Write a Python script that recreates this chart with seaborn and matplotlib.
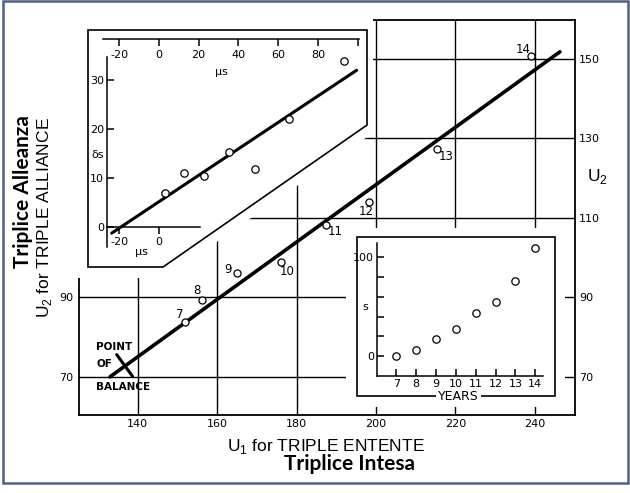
import numpy as np
import pandas as pd
import seaborn as sns
import matplotlib.pyplot as plt
from matplotlib.patches import Polygon, Rectangle

# main chart: U1 (Triple Entente) against U2 (Triple Alliance), years 1907-1914
years = [7, 8, 9, 10, 11, 12, 13, 14]
u1 = [151.8, 156.2, 165.0, 176.1, 187.5, 198.2, 215.3, 239.0]
u2 = [83.9, 89.4, 96.2, 98.8, 108.1, 113.9, 127.3, 150.8]
fit_u1 = [133.0, 246.3]
fit_u2 = [70.0, 151.8]
balance_u1 = [134.7, 138.7]
balance_u2 = [75.6, 70.1]
x_ticks = [140, 160, 180, 200, 220, 240]
y_ticks = [70, 90, 110, 130, 150]

# upper inset: delta s against mu s
mu_s = [3.1, 12.5, 22.7, 35.1, 48.2, 65.6, 92.9]
delta_s = [6.9, 11.1, 10.4, 15.3, 11.9, 22.0, 33.9]
fit_mu = [-23.7, 99.4]
fit_delta = [-1.2, 32.0]
mu_ticks = [-20, 0, 20, 40, 60, 80, 100]
mu_labels = ['-20', '0', '20', '40', '60', '80', '']
delta_ticks = [0, 10, 20, 30]

# lower inset: s against years
s_values = [0.0, 6.4, 17.2, 27.3, 43.4, 54.8, 75.8, 109.7]
s_ticks = [0, 20, 40, 60, 80, 100]
s_labels = ['0', '', '', '', '', '100']

# where each year number sits next to its point (pixels)
label_offsets = {7: (-5, 7), 8: (-5, 9), 9: (-9, 3), 10: (6, -9),
                 11: (9, -6), 12: (-3, -9), 13: (9, -7), 14: (-8, 6)}

sns.set_style("white")
plt.rcParams['font.family'] = ['DejaVu Sans']
plt.rcParams.update({'text.color': 'black', 'xtick.color': 'black', 'ytick.color': 'black',
                     'axes.labelcolor': 'black'})

W, H = 630, 493
fig = plt.figure(figsize=(W / 100, H / 100), dpi=100)


def box(x0, y0, x1, y1):
    return [x0 / W, 1 - y1 / H, (x1 - x0) / W, (y1 - y0) / H]


def fig_pts(pts):
    return [(x / W, 1 - y / H) for x, y in pts]


# ---- main axes
ax = fig.add_axes(box(79, 20, 575, 415))
ax.set_xlim(125.2, 250.1)
ax.set_ylim(60.4, 159.8)
for v in x_ticks:
    ax.axvline(v, color='black', lw=1.0, zorder=1)
for v in y_ticks:
    ax.axhline(v, color='black', lw=1.0, zorder=1)
sns.lineplot(x=fit_u1, y=fit_u2, ax=ax, color='black', lw=2.6, zorder=3)
sns.lineplot(x=balance_u1, y=balance_u2, ax=ax, color='black', lw=2.2, zorder=3)
sns.scatterplot(x=u1, y=u2, ax=ax, marker='o', s=26, facecolor='white',
                edgecolor='black', linewidth=0.9, zorder=4)
for yr, x, y in zip(years, u1, u2):
    ax.annotate(str(yr), (x, y), xytext=label_offsets[yr], textcoords='offset pixels',
                ha='center', va='center', fontsize=8.5)

for sp in ax.spines.values():
    sp.set_linewidth(1.3)
    sp.set_color('black')
ax.spines['left'].set_bounds(60.4, 94.9)
ax.spines['top'].set_bounds(199.1, 250.1)
ax.set_xticks(x_ticks)
ax.set_yticks(y_ticks)
ax.tick_params(length=0, labelsize=8, pad=3, labelleft=False, labelright=True)
ax.set_xlabel('')
ax.set_ylabel('')
left = ax.secondary_yaxis('left')
left.set_yticks([70, 90])
left.spines['left'].set_visible(False)
left.tick_params(length=0, labelsize=8, pad=4)

# ---- upper-left inset
ia = fig.add_axes(box(88, 30, 367, 267))
ia.set_xlim(-35.6, 104.6)
ia.set_ylim(-8.1, 40.2)
ia.patch.set_visible(False)
ia.add_patch(Polygon(fig_pts([(75, 8), (373, 8), (373, 133), (165, 278), (75, 278)]),
                     transform=fig.transFigure, fc='white', ec='none', zorder=0.5, clip_on=False))
ia.add_patch(Polygon([(0, 0), (0, 1), (1, 1), (1, 0.599), (0.269, 0)], closed=True,
                     transform=ia.transAxes, fill=False, ec='black', lw=1.2, zorder=1, clip_on=False))
ia.spines[['top', 'right']].set_visible(False)
ia.spines['left'].set_position(('data', -26.2))
ia.spines['left'].set_bounds(-4.1, 34.7)
ia.spines['bottom'].set_position(('data', 38.3))
ia.spines['bottom'].set_bounds(-28, 100.6)
for sp in ia.spines.values():
    sp.set_color('black')
    sp.set_linewidth(1.1)
ia.set_xticks(mu_ticks, mu_labels)
ia.set_yticks(delta_ticks)
ia.tick_params(axis='x', bottom=True, direction='out', length=5, width=1.1, pad=3, labelsize=8)
ia.tick_params(axis='y', left=True, direction='in', length=5, width=1.1, pad=2, labelsize=8)
sns.lineplot(x=fit_mu, y=fit_delta, ax=ia, color='black', lw=2.2)
sns.scatterplot(x=mu_s, y=delta_s, ax=ia, marker='o', s=28, facecolor='white',
                edgecolor='black', linewidth=0.9, zorder=4)
ia.text(31.6, 31.7, 'μs', ha='center', va='center', fontsize=8)
ia.text(-30.6, 14.7, 'δs', ha='center', va='center', fontsize=8)
ia.text(-8.6, -5.0, 'μs', ha='center', va='center', fontsize=8)
ia.set_xlabel('')
ia.set_ylabel('')

# lower mu axis of the same inset
ib = fig.add_axes(box(88, 30, 367, 267))
ib.set_xlim(-35.6, 104.6)
ib.set_ylim(-8.1, 40.2)
ib.patch.set_visible(False)
ib.spines[['top', 'right', 'left']].set_visible(False)
ib.spines['bottom'].set_position(('data', 0))
ib.spines['bottom'].set_bounds(-26.2, 20.7)
ib.spines['bottom'].set_color('black')
ib.spines['bottom'].set_linewidth(1.1)
ib.set_xticks([-20, 0], ['-20', '0'])
ib.set_yticks([])
ib.tick_params(axis='x', bottom=True, direction='out', length=5, width=1.1, pad=2, labelsize=8)

# ---- lower-right inset
ic = fig.add_axes(box(356.7, 237.3, 555, 396))
ic.set_xlim(5, 15)
ic.set_ylim(-40, 120)
ic.patch.set_visible(False)
ic.add_patch(Polygon(fig_pts([(346, 228), (565, 228), (565, 407), (346, 407)]),
                     transform=fig.transFigure, fc='white', ec='none', zorder=0.5, clip_on=False))
ic.add_patch(Rectangle((0, 0), 1, 1, transform=ic.transAxes, fill=False, ec='black',
                       lw=1.2, zorder=1, clip_on=False))
ic.spines[['top', 'right']].set_visible(False)
ic.spines['left'].set_position(('data', 6))
ic.spines['left'].set_bounds(-20, 114)
ic.spines['bottom'].set_position(('data', -20))
ic.spines['bottom'].set_bounds(6, 14.4)
for sp in ic.spines.values():
    sp.set_color('black')
    sp.set_linewidth(1.1)
ic.set_xticks(years)
ic.set_yticks(s_ticks, s_labels)
ic.tick_params(bottom=True, left=True, direction='in', length=5, width=1.1, pad=2, labelsize=8)
sns.scatterplot(x=years, y=s_values, ax=ic, marker='o', s=28, facecolor='white',
                edgecolor='black', linewidth=0.9, zorder=4)
ic.text(0.512, 0, 'YEARS', transform=ic.transAxes, ha='center', va='center', fontsize=9,
        bbox=dict(fc='white', ec='none', pad=1.5), zorder=5)
ic.text(0.045, 0.563, 's', transform=ic.transAxes, ha='center', va='center', fontsize=8)
ic.set_xlabel('')
ic.set_ylabel('')

# ---- titles and notes
fig.text(326 / W, 1 - 446 / H, r'U$_\mathregular{1}$ for TRIPLE ENTENTE', ha='center', va='center',
         fontsize=12.5, family=['Liberation Sans', 'DejaVu Sans'])
fig.text(350 / W, 1 - 464 / H, 'Triplice Intesa', ha='center', va='center',
         fontsize=15, weight='bold', family=['Lato', 'DejaVu Sans'])
fig.text(23 / W, 1 - 191.5 / H, 'Triplice Alleanza', ha='center', va='center', rotation=90,
         fontsize=15, weight='bold', family=['Lato', 'DejaVu Sans'])
fig.text(45 / W, 1 - 218 / H, r'U$_\mathregular{2}$ for TRIPLE ALLIANCE', ha='center', va='center',
         rotation=90, fontsize=12.5, family=['Liberation Sans', 'DejaVu Sans'])
fig.text(597 / W, 1 - 176 / H, r'U$_\mathregular{2}$', ha='center', va='center',
         fontsize=12.5, family=['Liberation Sans', 'DejaVu Sans'])
for word, y in [('POINT', 347.3), ('OF', 364.3), ('BALANCE', 386.7)]:
    fig.text(96 / W, 1 - y / H, word, ha='left', va='center', fontsize=7.5, weight='bold')

fig.add_artist(Rectangle((3 / W, 1 - 483 / H), 625 / W, 482 / H, transform=fig.transFigure,
                         fill=False, ec='#4f6080', lw=1.8))

fig.savefig('out.png', dpi=100)
